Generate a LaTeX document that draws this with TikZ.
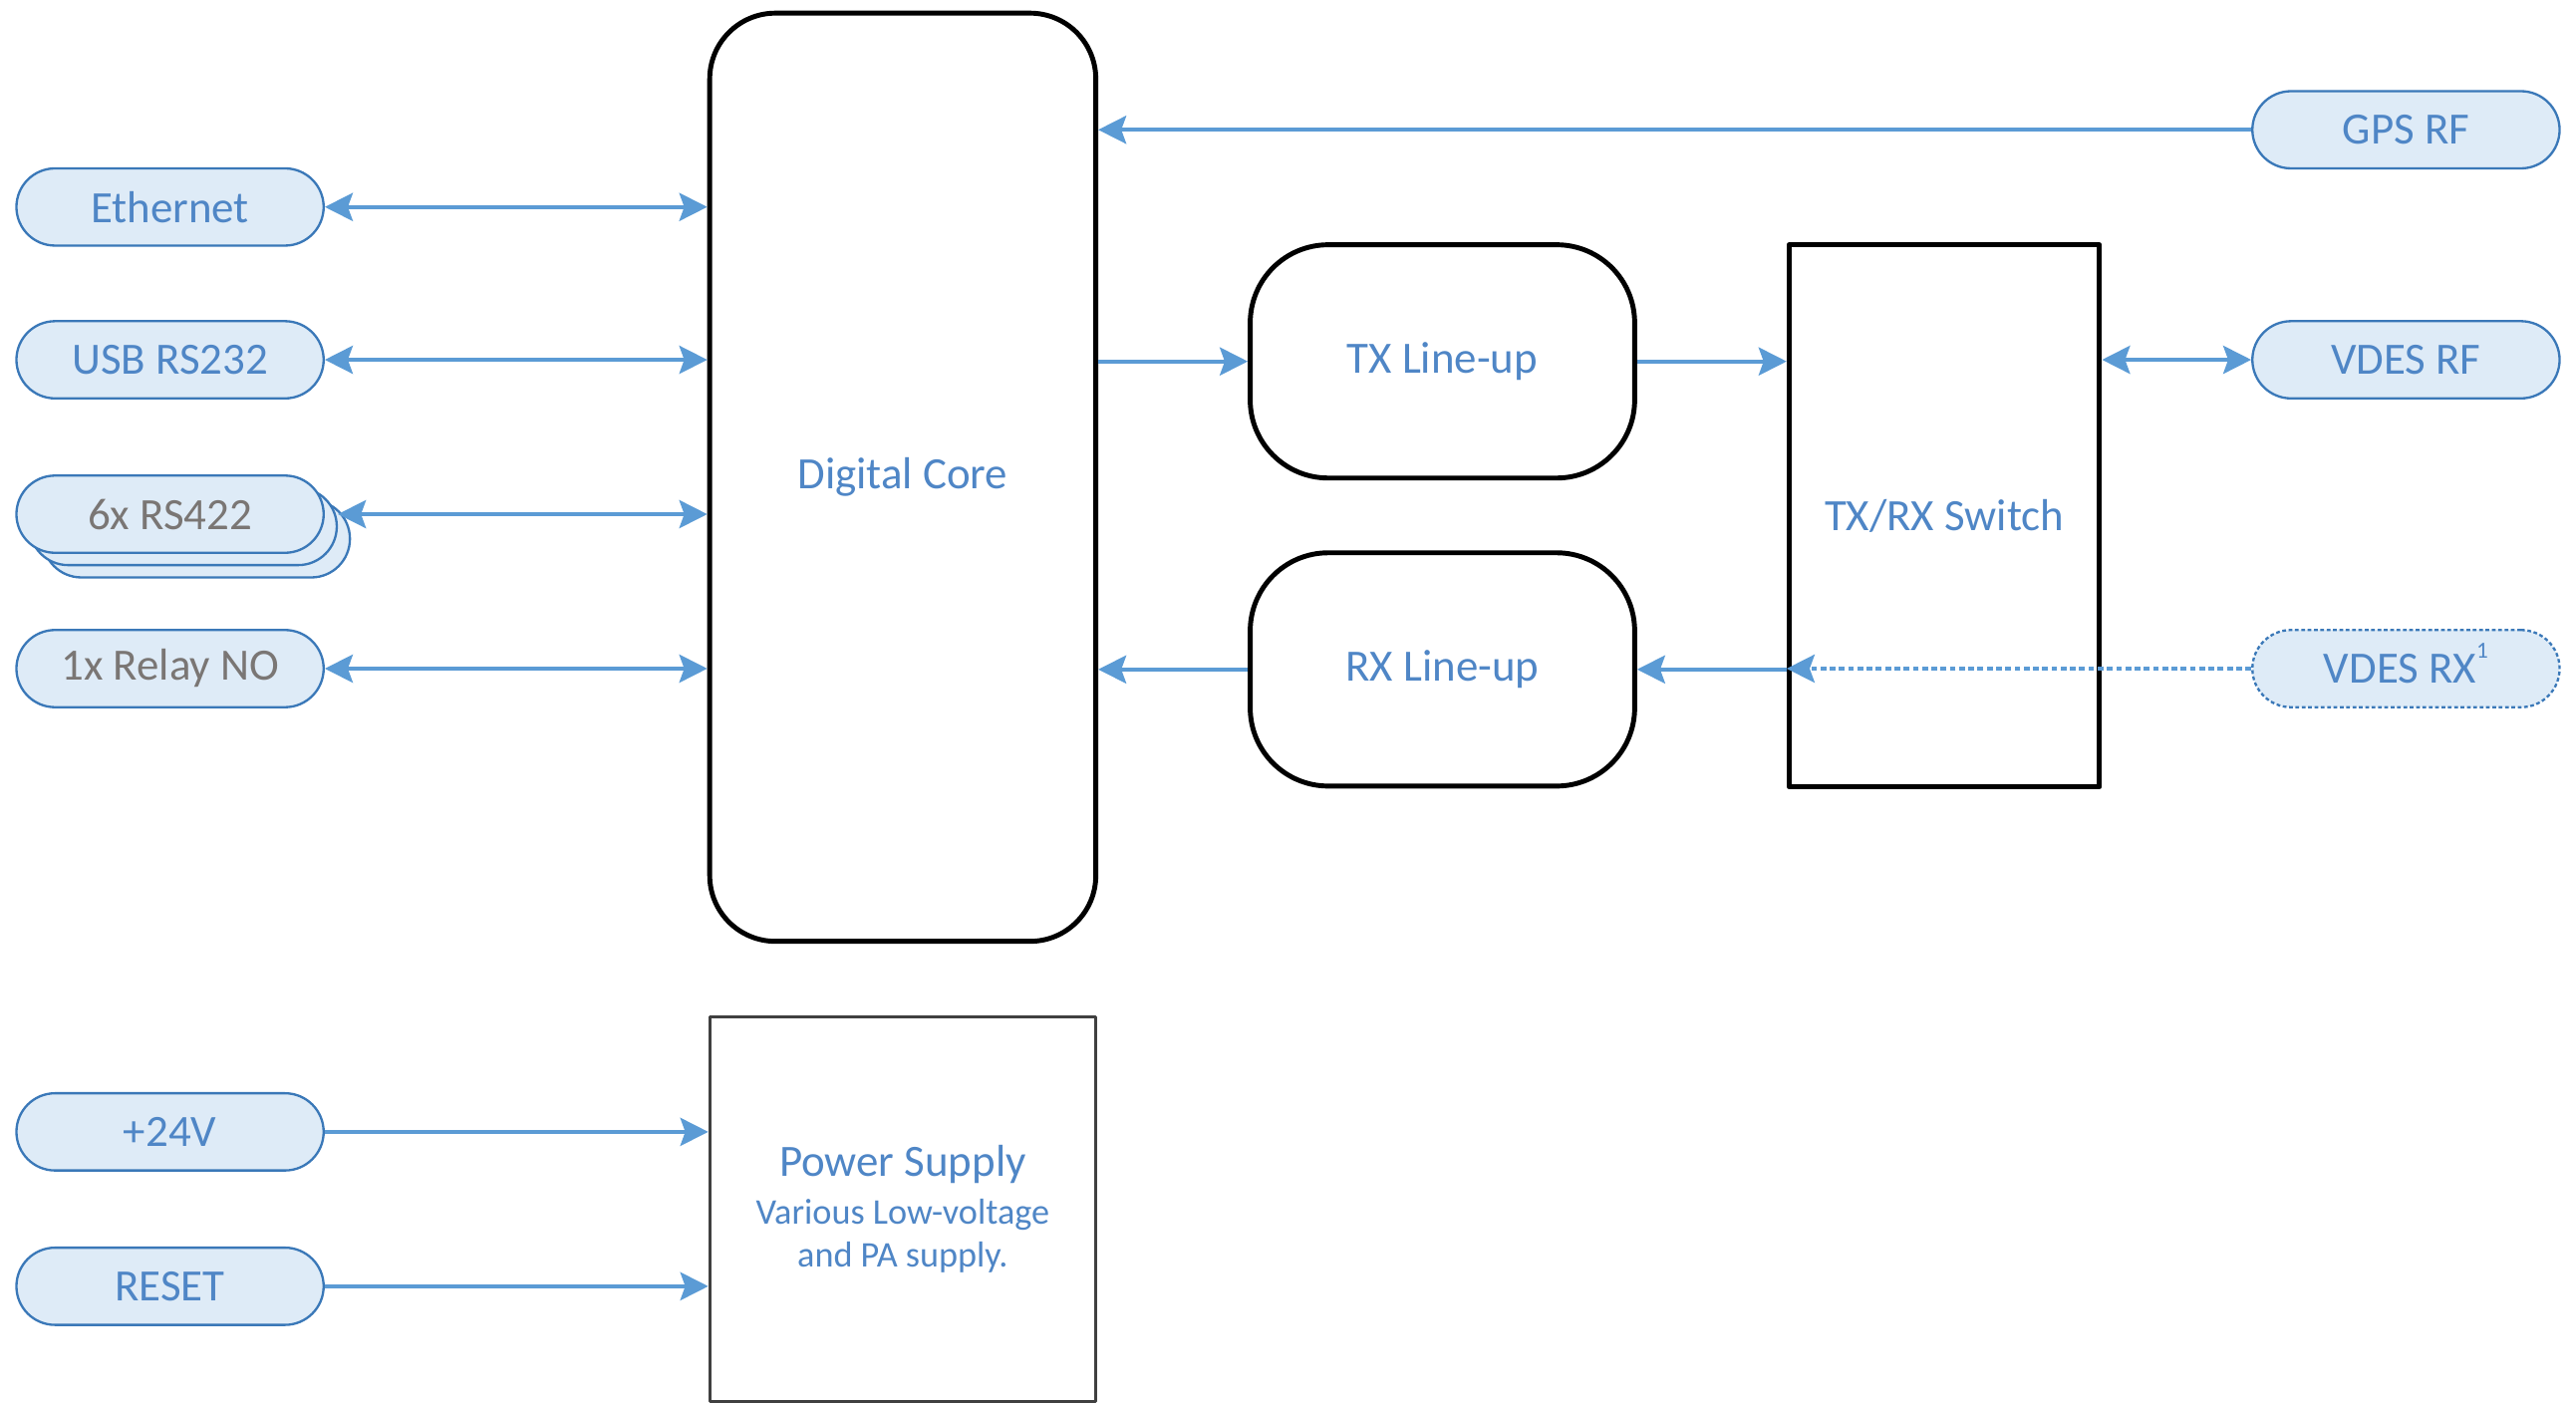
\documentclass[tikz,border=0pt]{standalone}
\usepackage{fontspec}
\setmainfont{Carlito}
\usetikzlibrary{arrows.meta,shadows}

\definecolor{pillfill}{HTML}{DEEBF7}
\definecolor{pillline}{HTML}{3A78B8}
\definecolor{textblue}{HTML}{4F86C6}
\definecolor{textgray}{HTML}{7A7674}
\definecolor{linkblue}{HTML}{5B9BD5}

\begin{document}
\begin{tikzpicture}[x=0.2mm, y=-0.2mm, >={Stealth[length=3.4mm, width=3.4mm, inset=0.6mm]}, line join=round, font=\fontsize{15.5}{18}\selectfont,
	pill/.style={draw=pillline, fill=pillfill, line width=0.8pt, rounded corners=4.7mm, minimum width=37.4mm, minimum height=9.4mm, inner sep=0pt, text=textblue},
	block/.style={draw=black, line width=1.7pt, inner sep=0pt, text=textblue, align=center},
	link/.style={draw=linkblue, line width=1.4pt}]
	\useasboundingbox (0,0) rectangle (1568,854);
	% Cổng bên trái
	\node[pill] (eth) at (103.5,126) {Ethernet};
	\node[pill] (usb) at (103.5,219) {USB RS232};
	\node[pill, text=textgray, double copy shadow={shadow xshift=1.6mm, shadow yshift=-1.5mm, fill=pillfill, draw=pillline, line width=0.8pt}] (rs) at (103.5,313) {6x RS422};
	\node[pill, text=textgray] (relay) at (103.5,407) {1x Relay NO};
	\node[pill] (p24) at (103.5,689) {+24V};
	\node[pill] (reset) at (103.5,783) {RESET};
	% Cổng bên phải
	\node[pill] (gps) at (1464.5,79) {GPS RF};
	\node[pill] (vrf) at (1464.5,219) {VDES RF};
	\node[pill, dash pattern=on 1.3pt off 0.9pt] (vrx) at (1464.5,407) {VDES RX\smash{\raisebox{1.15ex}{\fontsize{8}{8}\selectfont 1}}};
	% Các khối chính
	\node[block, rounded corners=8mm, minimum width=47mm, minimum height=113mm] (core) at (549.5,290.5) {Digital Core};
	\node[block, rounded corners=9.5mm, minimum width=46.8mm, minimum height=28.4mm] (tx) at (878,220) {TX Line-up};
	\node[block, rounded corners=9.5mm, minimum width=46.8mm, minimum height=28.4mm] (rx) at (878,407.5) {RX Line-up};
	\node[block, minimum width=37.8mm, minimum height=66mm] (sw) at (1183.5,314) {TX/RX Switch};
	\node[block, draw=black!75, line width=1pt, minimum width=47mm, minimum height=46.8mm, font=\fontsize{12.5}{14.8}\selectfont] (psu) at (549.5,736)
		{{\fontsize{15.5}{18}\selectfont Power Supply}\\[2pt]Various Low-voltage\\and PA supply.};
	% Kết nối
	\draw[link, <->] (eth.east) -- (eth.east -| core.west);
	\draw[link, <->] (usb.east) -- (usb.east -| core.west);
	\draw[link, <->] ([xshift=1.6mm]rs.east) -- (rs.east -| core.west);
	\draw[link, <->] (relay.east) -- (relay.east -| core.west);
	\draw[link, ->] (gps.west) -- (gps.west -| core.east);
	\draw[link, ->] (tx.west -| core.east) -- (tx.west);
	\draw[link, ->] (tx.east) -- (tx.east -| sw.west);
	\draw[link, <->] (vrf.west -| sw.east) -- (vrf.west);
	\draw[link, ->] (rx.west) -- (rx.west -| core.east);
	\draw[link, ->] (rx.east -| sw.west) -- (rx.east);
	\draw[link, ->, dash pattern=on 2pt off 1.2pt] (vrx.west) -- (vrx.west -| sw.west);
	\draw[link, ->] (p24.east) -- (p24.east -| psu.west);
	\draw[link, ->] (reset.east) -- (reset.east -| psu.west);
\end{tikzpicture}
\end{document}
